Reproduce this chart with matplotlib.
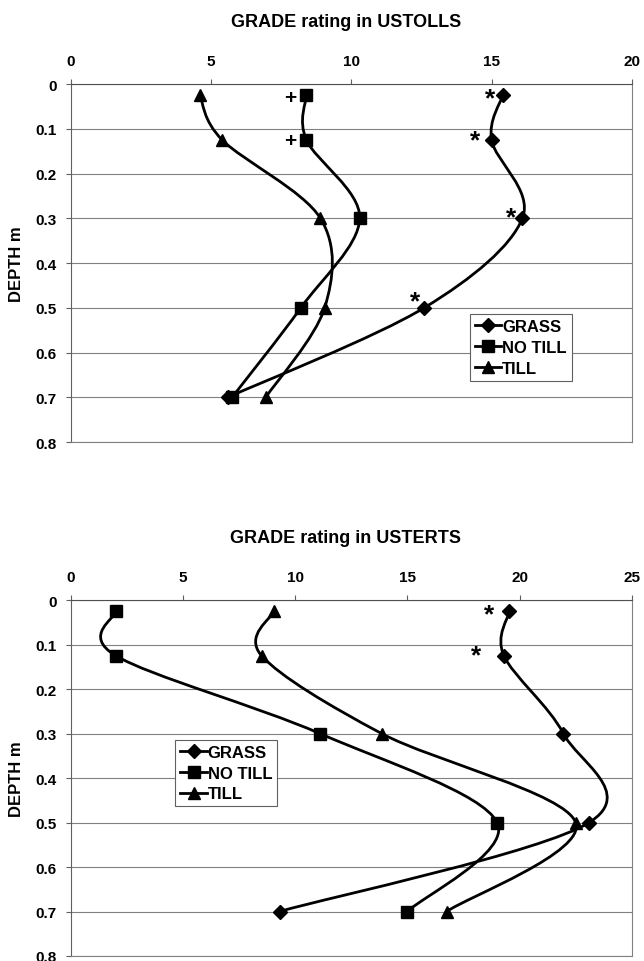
import numpy as np
import matplotlib
matplotlib.use("Agg")
import matplotlib.pyplot as plt
from matplotlib.path import Path
from matplotlib.patches import PathPatch
from matplotlib.lines import Line2D

plt.rcParams['font.family'] = ['Liberation Sans', 'DejaVu Sans']
plt.rcParams['font.weight'] = 'bold'

# Sampling depths (m)
depth = [0.025, 0.125, 0.3, 0.5, 0.7]

# USTOLLS GRADE ratings
ustolls_grass = [15.4, 15.0, 16.1, 12.6, 5.6]
ustolls_notill = [8.4, 8.4, 10.3, 8.2, 5.75]
ustolls_till = [4.6, 5.4, 8.9, 9.05, 6.95]

# USTERTS GRADE ratings
usterts_grass = [19.55, 19.3, 21.95, 23.1, 9.3]
usterts_notill = [2.0, 2.0, 11.1, 19.0, 15.0]
usterts_till = [9.05, 8.5, 13.85, 22.5, 16.75]

# which points carry a significance mark
ustolls_grass_star = [0, 1, 2, 3]
ustolls_notill_plus = [0, 1]
usterts_grass_star = [0, 1]

yticks = [0, 0.1, 0.2, 0.3, 0.4, 0.5, 0.6, 0.7, 0.8]
ytick_labels = ['0', '0.1', '0.2', '0.3', '0.4', '0.5', '0.6', '0.7', '0.8']

series_names = ['GRASS', 'NO TILL', 'TILL']
markers = ['D', 's', '^']
msizes = [7, 8.5, 9]


def smooth_path(xs, ys):
    # Excel-like smoothed line: cubic Bezier through the points
    pts = np.column_stack([xs, ys])
    n = len(pts)
    verts = [pts[0]]
    codes = [Path.MOVETO]
    for i in range(n - 1):
        p_prev = pts[i - 1] if i > 0 else pts[i]
        p_next = pts[i + 2] if i + 2 < n else pts[i + 1]
        c1 = pts[i] + (pts[i + 1] - p_prev) / 6.0
        c2 = pts[i + 1] - (p_next - pts[i]) / 6.0
        verts += [c1, c2, pts[i + 1]]
        codes += [Path.CURVE4, Path.CURVE4, Path.CURVE4]
    return Path(verts, codes)


def draw_panel(ax, title, xmax, series, legend_anchor):
    for vals, mk, ms in zip(series, markers, msizes):
        ax.add_patch(PathPatch(smooth_path(vals, depth), fill=False,
                               edgecolor='black', lw=2.0, zorder=3))
        ax.plot(vals, depth, linestyle='none', marker=mk, ms=ms,
                color='black', zorder=4)

    ax.set_xlim(0, xmax)
    ax.set_ylim(0.8, 0)
    ax.set_xticks(np.arange(0, xmax + 1, 5))
    ax.set_yticks(yticks)
    ax.set_yticklabels(ytick_labels)
    ax.xaxis.tick_top()
    ax.tick_params(axis='x', direction='out', length=3.6, width=0.8,
                   color='#606060', labelsize=11, pad=8)
    ax.tick_params(axis='y', direction='out', length=3.6, width=0.8,
                   color='#606060', labelsize=11, pad=6.5)
    for lab in ax.get_xticklabels() + ax.get_yticklabels():
        lab.set_fontweight('bold')

    ax.grid(axis='y', color='#808080', lw=0.8)
    ax.set_axisbelow(True)
    for side in ['left', 'right', 'top', 'bottom']:
        ax.spines[side].set_color('#808080')
        ax.spines[side].set_linewidth(0.8)
    ax.spines['top'].set_color('#505050')
    ax.spines['left'].set_color('#606060')

    ax.set_ylabel('DEPTH m', fontsize=12, fontweight='bold')
    ax.yaxis.set_label_coords(-0.084, 0.5)
    ax.text(0.49, 1.176, title, transform=ax.transAxes, ha='center',
            va='center', fontsize=13, fontweight='bold')

    handles = [Line2D([], [], color='black', lw=2.0, marker=mk, ms=ms)
               for mk, ms in zip(markers, msizes)]
    leg = ax.legend(handles, series_names, loc='upper left',
                    bbox_to_anchor=legend_anchor, frameon=True, fancybox=False,
                    framealpha=1, edgecolor='#606060', handlelength=1.6,
                    handletextpad=0.05, borderpad=0.3, labelspacing=0.35,
                    borderaxespad=0,
                    prop={'size': 12, 'weight': 'bold'})
    leg.get_frame().set_linewidth(0.8)


def mark(ax, xs, idx, sym, dx, dy, size):
    for i, (ox, oy) in zip(idx, zip(dx, dy)):
        ax.annotate(sym, (xs[i], depth[i]), xytext=(ox, oy),
                    textcoords='offset points', ha='center', va='center',
                    fontsize=size, fontweight='bold', zorder=5)


fig = plt.figure(figsize=(6.44, 9.62), dpi=100)
ax1 = fig.add_axes([0.110, 0.5395, 0.871, 0.372])
ax2 = fig.add_axes([0.110, 0.0052, 0.871, 0.370])

draw_panel(ax1, 'GRADE rating in USTOLLS', 20,
           [ustolls_grass, ustolls_notill, ustolls_till], (0.711, 0.358))
draw_panel(ax2, 'GRADE rating in USTERTS', 25,
           [usterts_grass, usterts_notill, usterts_till], (0.186, 0.6075))

# star glyph sits high in its text box, so the offsets are lowered a bit
mark(ax1, ustolls_grass, ustolls_grass_star, '*', [-9.4, -11.5, -8.3, -6.5],
     [-2, 0, 1, 4.5], 19)
mark(ax1, ustolls_notill, ustolls_notill_plus, '+', [-11.9, -11.9], [-1.4, 0], 15)
mark(ax2, usterts_grass, usterts_grass_star, '*', [-14.8, -20], [-2, 0], 19)

fig.savefig('out.png', dpi=100)
